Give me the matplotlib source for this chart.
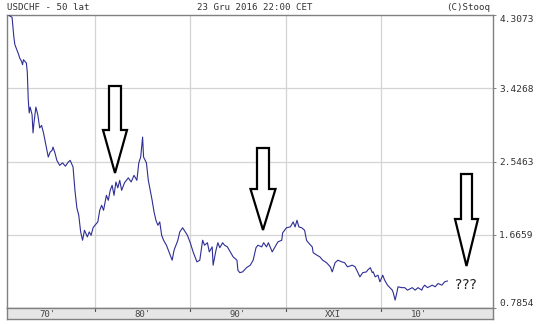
import matplotlib
matplotlib.use("Agg")
import matplotlib.pyplot as plt
from matplotlib.patches import Polygon

years = [1971.0, 1971.3, 1971.4, 1971.5, 1971.6, 1971.8, 1972.0, 1972.1, 1972.3, 1972.4,
         1972.5, 1972.8, 1972.9, 1973.0, 1973.1, 1973.2, 1973.4, 1973.5, 1973.6, 1973.8,
         1974.0, 1974.2, 1974.4, 1974.6, 1974.9, 1975.1, 1975.3, 1975.5, 1975.6, 1975.8,
         1976.0, 1976.3, 1976.6, 1976.9, 1977.2, 1977.4, 1977.7, 1977.9, 1978.1, 1978.3,
         1978.5, 1978.7, 1978.9, 1979.2, 1979.4, 1979.6, 1979.8, 1980.0, 1980.3, 1980.5,
         1980.7, 1980.9, 1981.2, 1981.4, 1981.6, 1981.8, 1982.0, 1982.2, 1982.4, 1982.6,
         1982.8, 1983.1, 1983.5, 1983.8, 1984.1, 1984.4, 1984.6, 1984.8, 1985.0, 1985.1,
         1985.4, 1985.6, 1985.8, 1986.0, 1986.2, 1986.4, 1986.6, 1986.8, 1987.0, 1987.2,
         1987.5, 1987.7, 1987.9, 1988.1, 1988.3, 1988.5, 1988.7, 1988.9, 1989.2, 1989.7,
         1990.0, 1990.3, 1990.7, 1991.0, 1991.3, 1991.5, 1991.8, 1992.0, 1992.3, 1992.4,
         1992.7, 1992.9, 1993.1, 1993.4, 1993.6, 1993.9, 1994.2, 1994.5, 1994.9, 1995.0,
         1995.2, 1995.5, 1995.9, 1996.3, 1996.6, 1996.9, 1997.1, 1997.5, 1997.7, 1998.0,
         1998.2, 1998.6, 1998.9, 1999.2, 1999.6, 1999.7, 2000.1, 2000.5, 2000.8, 2001.0,
         2001.2, 2001.4, 2001.7, 2002.0, 2002.2, 2002.4, 2002.8, 2002.9, 2003.3, 2003.6,
         2003.9, 2004.3, 2004.7, 2004.9, 2005.2, 2005.5, 2005.9, 2006.2, 2006.5, 2007.0,
         2007.3, 2007.6, 2007.8, 2008.1, 2008.5, 2008.6, 2008.9, 2009.1, 2009.2, 2009.4,
         2009.7, 2009.9, 2010.2, 2010.4, 2010.7, 2011.2, 2011.3, 2011.5, 2011.7, 2011.8,
         2012.2, 2012.5, 2012.8, 2013.3, 2013.6, 2013.9, 2014.3, 2014.4, 2014.6, 2014.9,
         2015.4, 2015.7, 2016.0, 2016.4, 2016.7, 2016.98]
rates = [4.30, 4.28, 4.15, 4.03, 3.95, 3.89, 3.83, 3.79, 3.75, 3.71,
         3.77, 3.73, 3.62, 3.29, 3.13, 3.20, 3.11, 2.89, 3.01, 3.20,
         3.11, 2.95, 2.98, 2.89, 2.72, 2.60, 2.66, 2.68, 2.72, 2.65,
         2.56, 2.50, 2.53, 2.49, 2.54, 2.56, 2.48, 2.20, 1.99, 1.90,
         1.70, 1.60, 1.72, 1.64, 1.70, 1.66, 1.75, 1.78, 1.82, 1.96,
         2.02, 1.96, 2.14, 2.08, 2.20, 2.26, 2.14, 2.30, 2.23, 2.32,
         2.20, 2.29, 2.35, 2.30, 2.38, 2.32, 2.53, 2.60, 2.84, 2.60,
         2.53, 2.32, 2.20, 2.08, 1.94, 1.84, 1.78, 1.82, 1.66, 1.60,
         1.54, 1.48, 1.42, 1.36, 1.48, 1.54, 1.60, 1.70, 1.75, 1.66,
         1.57, 1.46, 1.34, 1.36, 1.60, 1.54, 1.57, 1.46, 1.52, 1.30,
         1.48, 1.57, 1.51, 1.57, 1.54, 1.52, 1.46, 1.40, 1.36, 1.24,
         1.21, 1.22, 1.27, 1.30, 1.36, 1.51, 1.54, 1.52, 1.57, 1.52,
         1.57, 1.46, 1.52, 1.58, 1.60, 1.69, 1.75, 1.76, 1.82, 1.76,
         1.84, 1.76, 1.75, 1.72, 1.60, 1.57, 1.52, 1.45, 1.42, 1.40,
         1.36, 1.33, 1.28, 1.22, 1.33, 1.36, 1.34, 1.33, 1.28, 1.30,
         1.28, 1.21, 1.16, 1.21, 1.22, 1.24, 1.27, 1.21, 1.22, 1.16,
         1.18, 1.10, 1.18, 1.12, 1.06, 1.00, 0.97, 0.88, 0.98, 1.04,
         1.03, 1.03, 1.00, 1.03, 1.00, 1.03, 1.00, 1.03, 1.06, 1.03,
         1.06, 1.04, 1.08, 1.06, 1.10, 1.11]

y_ticks = [0.7854, 1.6659, 2.5463, 3.4268, 4.3073]
x_grid = [1980, 1990, 2000, 2010]
decade_labels = ["70'", "80'", "90'", "XXI", "10'"]
decade_label_pos = [1975, 1985, 1995, 2005, 2014]

W, H = 540, 324
fig = plt.figure(figsize=(W / 100, H / 100), dpi=100)
fig.patch.set_facecolor("white")

L, R, T, B = 7, 493, 15, 308
ax = fig.add_axes([L / W, 1 - B / H, (R - L) / W, (B - T) / H])
xlim = (1970.77, 2021.77)
ax.set_xlim(*xlim)
ax.set_ylim(y_ticks[0], y_ticks[-1])

mono = "DejaVu Sans Mono"
border = "#808080"
for s in ax.spines.values():
    s.set_color(border)
    s.set_linewidth(1.0)

for g in x_grid:
    ax.axvline(g, color="#d4d4d4", lw=0.9, zorder=0)
for yv in y_ticks[1:-1]:
    ax.axhline(yv, color="#d4d4d4", lw=0.9, zorder=0)

ax.plot(years, rates, color="#2e2e96", lw=0.8, zorder=3)

ax.set_xticks([])
ax.yaxis.tick_right()
ax.set_yticks(y_ticks)
ax.set_yticklabels([f"{v:.4f}" for v in y_ticks], fontfamily=mono, fontsize=6.8, color="#333333")
ax.tick_params(axis="y", length=2.5, width=0.7, color=border, pad=2)
labs = ax.get_yticklabels()
labs[0].set_va("bottom")
labs[-1].set_va("top")

# arrows in axes fraction coordinates
def px2ax(px, py):
    return ((px - L) / (R - L), (B - py) / (B - T))

def arrow(cx, top, neck, tip, sw, hw):
    pts = [(cx - sw, top), (cx + sw, top), (cx + sw, neck), (cx + hw, neck),
           (cx, tip), (cx - hw, neck), (cx - sw, neck)]
    poly = Polygon([px2ax(*p) for p in pts], closed=True, transform=ax.transAxes,
                   facecolor="white", edgecolor="black", lw=1.6, zorder=5)
    ax.add_patch(poly)

arrow(115, 86, 130, 173, 6, 12)
arrow(263, 148, 189, 230, 6, 12.5)
arrow(466.5, 174, 219, 266, 5.5, 11.5)

tx, ty = px2ax(466, 285)
ax.text(tx, ty, "???", transform=ax.transAxes, fontsize=10, ha="center", va="center",
        color="#222222", fontfamily="DejaVu Sans", zorder=6)

# bottom band
bx = fig.add_axes([L / W, 1 - 319 / H, (R - L) / W, 11 / H])
bx.set_xlim(*xlim)
bx.set_ylim(0, 1)
bx.set_facecolor("#e6e6e6")
for s in bx.spines.values():
    s.set_color(border)
    s.set_linewidth(1.0)
bx.set_xticks([])
bx.set_yticks([])
for g in x_grid:
    bx.plot([g, g], [0.75, 1.0], color="#555555", lw=0.8)
for lab, pos in zip(decade_labels, decade_label_pos):
    bx.text(pos, 0.45, lab, fontfamily=mono, fontsize=6.5, ha="center", va="center", color="#444444")

# header texts
fig.text(7 / W, 1 - 7.5 / H, "USDCHF - 50 lat", fontfamily=mono, fontsize=6.6, ha="left", va="center", color="#333333")
fig.text(255 / W, 1 - 7.5 / H, "23 Gru 2016 22:00 CET", fontfamily=mono, fontsize=6.6, ha="center", va="center", color="#333333")
fig.text(490 / W, 1 - 7.5 / H, "(C)Stooq", fontfamily=mono, fontsize=6.6, ha="right", va="center", color="#333333")

fig.savefig("out.png", dpi=100, facecolor="white")
